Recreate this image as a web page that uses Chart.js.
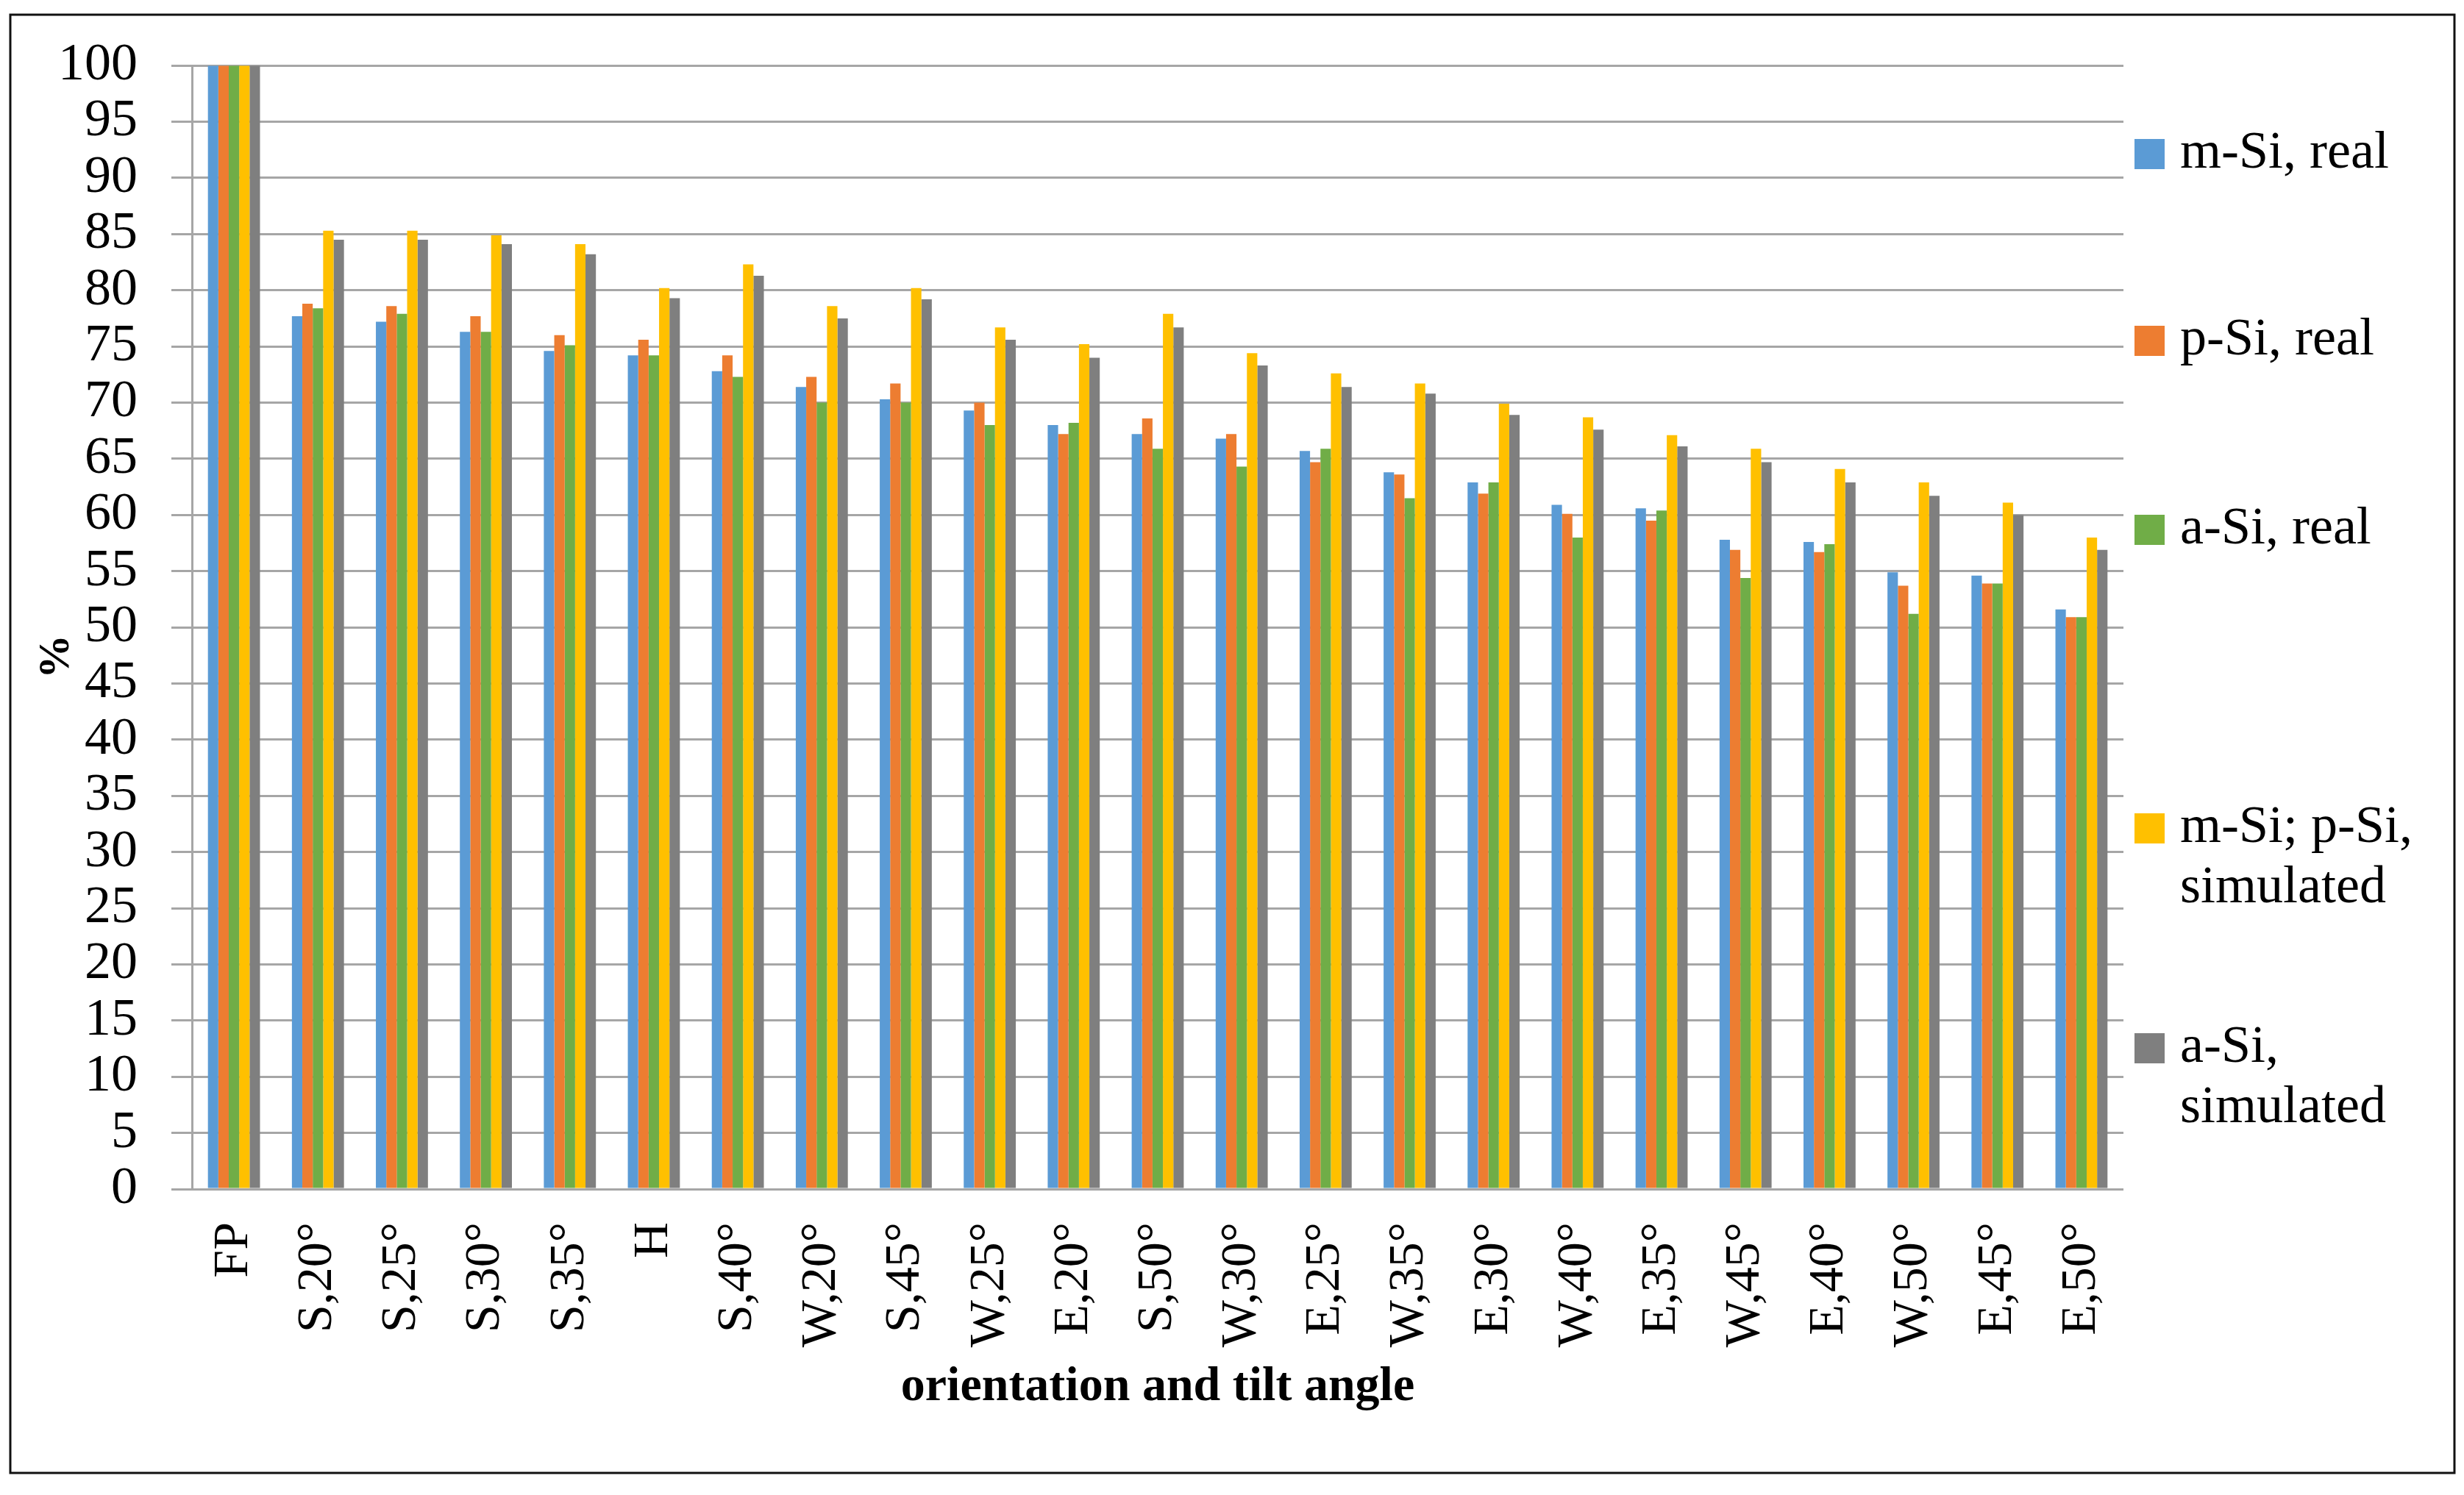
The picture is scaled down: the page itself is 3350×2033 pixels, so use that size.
<!DOCTYPE html>
<html>
<head>
<meta charset="utf-8">
<script src="https://cdn.jsdelivr.net/npm/chart.js@4/dist/chart.umd.min.js"></script>
<style>
  body { margin: 0; background: #fff; }
  canvas { display: block; }
</style>
</head>
<body>
<canvas id="myChart" width="3350" height="2033"></canvas>
<script>
const categories = ['FP', 'S,20°', 'S,25°', 'S,30°', 'S,35°', 'H', 'S,40°', 'W,20°', 'S,45°', 'W,25°',
  'E,20°', 'S,50°', 'W,30°', 'E,25°', 'W,35°', 'E,30°', 'W,40°', 'E,35°', 'W,45°', 'E,40°',
  'W,50°', 'E,45°', 'E,50°'];

const mSiReal = [100, 77.7, 77.2, 76.3, 74.6, 74.2, 72.8, 71.4, 70.3, 69.3,
  68.0, 67.2, 66.8, 65.7, 63.8, 62.9, 60.9, 60.6, 57.8, 57.6, 54.9, 54.6, 51.6];
const pSiReal = [100, 78.8, 78.6, 77.7, 76.0, 75.6, 74.2, 72.3, 71.7, 70.0,
  67.2, 68.6, 67.2, 64.7, 63.6, 61.9, 60.1, 59.5, 56.9, 56.7, 53.7, 53.9, 50.9];
const aSiReal = [100, 78.4, 77.9, 76.3, 75.1, 74.2, 72.3, 70.0, 70.0, 68.0,
  68.2, 65.9, 64.3, 65.9, 61.5, 62.9, 58.0, 60.4, 54.4, 57.4, 51.2, 53.9, 50.9];
const mpSiSim = [100, 85.3, 85.3, 84.9, 84.1, 80.2, 82.3, 78.6, 80.2, 76.7,
  75.2, 77.9, 74.4, 72.6, 71.7, 69.9, 68.7, 67.1, 65.9, 64.1, 62.9, 61.1, 58.0];
const aSiSim = [100, 84.5, 84.5, 84.1, 83.2, 79.3, 81.3, 77.5, 79.2, 75.6,
  74.0, 76.7, 73.3, 71.4, 70.8, 68.9, 67.6, 66.1, 64.7, 62.9, 61.7, 60.0, 56.9];

const seriesNames = ['m-Si, real', 'p-Si, real', 'a-Si, real', 'm-Si; p-Si, simulated', 'a-Si, simulated'];
const legendLines = [['m-Si, real'], ['p-Si, real'], ['a-Si, real'], ['m-Si; p-Si,', 'simulated'], ['a-Si,', 'simulated']];
const colors = ['#5B9BD5', '#ED7D31', '#70AD47', '#FFC000', '#7F7F7F'];

const yTicks = { min: 0, max: 100, step: 5 };

const serif = '"Liberation Serif", "DejaVu Serif", serif';

// white page + thin black frame
const framePlugin = {
  id: 'frame',
  beforeDraw(chart) {
    const ctx = chart.ctx;
    ctx.save();
    ctx.fillStyle = '#fff';
    ctx.fillRect(0, 0, chart.width, chart.height);
    ctx.strokeStyle = '#111';
    ctx.lineWidth = 3;
    ctx.strokeRect(14, 20, 3323, 1983);
    ctx.restore();
  }
};

// legend on the right + the "%" axis label, like the Excel one
const sideLegend = {
  id: 'sideLegend',
  afterDraw(chart) {
    const ctx = chart.ctx;
    const x = chart.chartArea.right + 15;
    const rows = [209, 463, 720, 1126, 1425];
    ctx.save();
    ctx.font = '72px ' + serif;
    ctx.textBaseline = 'middle';
    chart.data.datasets.forEach((ds, i) => {
      ctx.fillStyle = ds.backgroundColor;
      ctx.fillRect(x, rows[i] - 20, 41, 41);
      ctx.fillStyle = '#000';
      legendLines[i].forEach((line, j) => {
        ctx.fillText(line, x + 62, rows[i] + j * 82);
      });
    });

    ctx.translate(77, 893);
    ctx.rotate(-Math.PI / 2);
    ctx.textAlign = 'center';
    ctx.font = 'bold 60px ' + serif;
    ctx.fillText('%', 0, 0);
    ctx.restore();
  }
};

function renderChart() {
  const values = [mSiReal, pSiReal, aSiReal, mpSiSim, aSiSim];

  const data = {
    labels: categories,
    datasets: values.map((v, i) => ({
      label: seriesNames[i],
      data: v,
      backgroundColor: colors[i],
      borderWidth: 0,
      categoryPercentage: 0.62,
      barPercentage: 1.0
    }))
  };

  const config = {
    type: 'bar',
    data,
    options: {
      responsive: false,
      animation: false,
      devicePixelRatio: 1,
      layout: { padding: { top: 88, right: 463, bottom: 30, left: 40 } },
      plugins: {
        legend: { display: false },
        tooltip: { enabled: false }
      },
      scales: {
        x: {
          grid: { display: false, drawTicks: false },
          border: { display: false },
          ticks: {
            autoSkip: false,
            maxRotation: 90,
            minRotation: 90,
            padding: 45,
            color: '#000',
            font: { family: serif, size: 68 }
          },
          title: {
            display: true,
            text: 'orientation and tilt angle',
            color: '#000',
            font: { family: serif, size: 66, weight: 'bold' },
            padding: { top: 0, bottom: 76 }
          },
          afterFit: (scale) => { scale.height = 2033 - 30 - 1617; }
        },
        y: {
          min: yTicks.min,
          max: yTicks.max,
          grid: { color: '#A6A6A6', lineWidth: 3, tickLength: 28 },
          border: { display: true, color: '#A6A6A6', width: 3 },
          ticks: {
            stepSize: yTicks.step,
            autoSkip: false,
            padding: 46,
            color: '#000',
            font: { family: serif, size: 72 }
          },
          afterFit: (scale) => { scale.width = 261 - 40; }
        }
      }
    },
    plugins: [framePlugin, sideLegend]
  };

  new Chart(document.getElementById('myChart'), config);
}

renderChart();
</script>
</body>
</html>
